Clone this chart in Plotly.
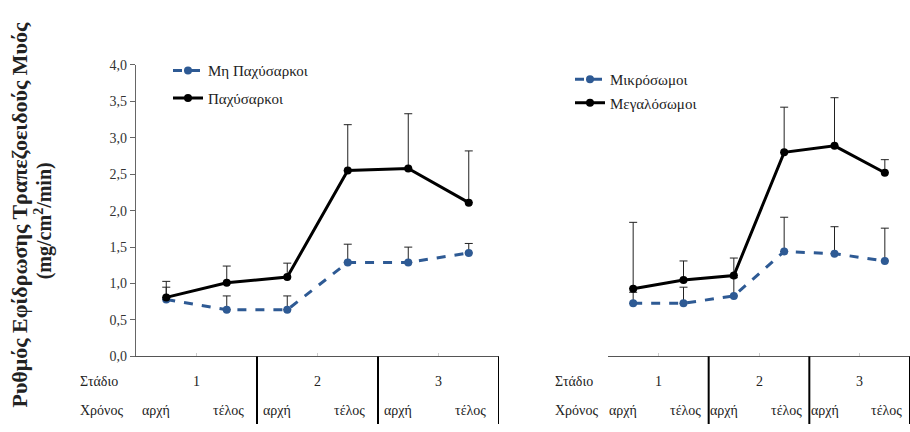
import plotly.graph_objects as go

# ---------------- DATA ----------------
points = [0, 1, 2, 3, 4, 5]
stages = ["1", "2", "3"]
times = ["αρχή", "τέλος", "αρχή", "τέλος", "αρχή", "τέλος"]
y_ticks = [0.0, 0.5, 1.0, 1.5, 2.0, 2.5, 3.0, 3.5, 4.0]
y_tick_text = ["0,0", "0,5", "1,0", "1,5", "2,0", "2,5", "3,0", "3,5", "4,0"]

left_names = ["Μη Παχύσαρκοι", "Παχύσαρκοι"]
left_nonobese = [0.78, 0.64, 0.64, 1.29, 1.29, 1.42]
left_nonobese_err = [0.17, 0.19, 0.19, 0.25, 0.21, 0.13]
left_obese = [0.81, 1.01, 1.09, 2.55, 2.58, 2.11]
left_obese_err = [0.22, 0.23, 0.19, 0.63, 0.75, 0.71]

right_names = ["Μικρόσωμοι", "Μεγαλόσωμοι"]
right_small = [0.73, 0.73, 0.83, 1.44, 1.41, 1.31]
right_small_err = [0.15, 0.22, 0.25, 0.47, 0.37, 0.45]
right_large = [0.93, 1.05, 1.11, 2.80, 2.89, 2.52]
right_large_err = [0.91, 0.26, 0.24, 0.62, 0.66, 0.18]

y_title = "Ρυθμός Εφίδρωσης Τραπεζοειδούς Μυός"
y_unit = "(mg/cm<sup>2</sup>/min)"
stage_label = "Στάδιο"
time_label = "Χρόνος"

# ---------------- STYLE ----------------
W, H = 910, 432
SERIF = "Liberation Serif"
BLUE = "#2E5A94"
BLACK = "#000000"
ERR = "#222222"
TXT = "#222222"

y_bot_px, y_top_px = 362, 60
ydom = [(H - y_bot_px) / H, (H - y_top_px) / H]
x1dom = [136 / W, 499 / W]
x2dom = [608 / W, 1.0]

fig = go.Figure()


def add_series(x_axis, y_axis, vals, errs, name, color, dash, legend, group):
    fig.add_trace(go.Scatter(
        x=points, y=vals, name=name, mode="lines+markers",
        xaxis=x_axis, yaxis=y_axis, legend=legend, legendgroup=group,
        line=dict(color=color, width=3, dash=dash),
        marker=dict(color=color, size=8, symbol="circle"),
        error_y=dict(type="data", symmetric=False, array=errs,
                     arrayminus=[0] * len(errs), color=ERR,
                     thickness=1, width=4),
    ))


add_series("x", "y", left_nonobese, left_nonobese_err, left_names[0], BLUE, "dash", "legend", "a")
add_series("x", "y", left_obese, left_obese_err, left_names[1], BLACK, "solid", "legend", "b")
add_series("x2", "y2", right_small, right_small_err, right_names[0], BLUE, "dash", "legend2", "c")
add_series("x2", "y2", right_large, right_large_err, right_names[1], BLACK, "solid", "legend2", "d")

axis_x_common = dict(range=[-0.5, 5.5], showgrid=False, zeroline=False,
                     showline=True, linecolor="#555555", linewidth=1.2,
                     tickvals=[0.5, 2.5, 4.5], ticks="inside", ticklen=3,
                     tickcolor="#cccccc", showticklabels=False, fixedrange=True)
fig.update_layout(
    width=W, height=H,
    margin=dict(l=0, r=0, t=0, b=0),
    paper_bgcolor="white", plot_bgcolor="white",
    font=dict(family=SERIF, size=13, color=TXT),
    xaxis=dict(domain=x1dom, anchor="y", **axis_x_common),
    xaxis2=dict(domain=x2dom, anchor="y2", **axis_x_common),
    yaxis=dict(domain=ydom, anchor="x", range=[0, 4.0], tickvals=y_ticks,
               ticktext=y_tick_text, ticks="outside", ticklen=5,
               tickcolor="#666666", showline=True, linecolor="#666666",
               linewidth=1.2, showgrid=False, zeroline=False,
               tickfont=dict(family=SERIF, size=14, color="#333333")),
    yaxis2=dict(domain=ydom, anchor="x2", range=[0, 4.0], visible=False,
                showgrid=False, zeroline=False),
    legend=dict(x=168 / W, y=(H - 49) / H, xanchor="left", yanchor="top",
                bgcolor="rgba(0,0,0,0)", font=dict(family=SERIF, size=15, color=TXT),
                tracegroupgap=5, itemwidth=30),
    legend2=dict(x=570 / W, y=(H - 58) / H, xanchor="left", yanchor="top",
                 bgcolor="rgba(0,0,0,0)", font=dict(family=SERIF, size=15, color=TXT),
                 tracegroupgap=1, itemwidth=30),
    showlegend=True,
)

shapes = []
annotations = []
row1_y = (H - 388) / H
row2_y = (H - 418) / H
axis_y_paper = ydom[0]
lbl_font = dict(family=SERIF, size=14, color=TXT)
for xa, label_x in (("x", 78), ("x2", 553)):
    for bx in (1.5, 3.5, 5.5):
        shapes.append(dict(type="line", xref=xa, yref="paper", x0=bx, x1=bx,
                           y0=0, y1=axis_y_paper, line=dict(color="black", width=2)))
    annotations.append(dict(text=stage_label, xref="paper", yref="paper",
                            x=label_x / W, y=row1_y, xanchor="left", yanchor="middle",
                            showarrow=False, font=lbl_font))
    annotations.append(dict(text=time_label, xref="paper", yref="paper",
                            x=label_x / W, y=row2_y, xanchor="left", yanchor="middle",
                            showarrow=False, font=lbl_font))
    for i, s in enumerate(stages):
        annotations.append(dict(text=s, xref=xa, yref="paper", x=2 * i + 0.5,
                                y=row1_y, xanchor="center", yanchor="middle",
                                showarrow=False, font=lbl_font))
    for i, t in enumerate(times):
        annotations.append(dict(text=t, xref=xa, yref="paper", x=points[i],
                                y=row2_y, xanchor="center", yanchor="middle",
                                xshift=(-10 if i % 2 == 0 else 2),
                                showarrow=False, font=lbl_font))

annotations.append(dict(text="<b>" + y_title + "</b>", xref="paper", yref="paper",
                        x=19 / W, y=(H - 216) / H, xanchor="center", yanchor="middle",
                        textangle=-90, showarrow=False,
                        font=dict(family=SERIF, size=22, color=TXT)))
annotations.append(dict(text="<b>" + y_unit + "</b>", xref="paper", yref="paper",
                        x=43 / W, y=(H - 222) / H, xanchor="center", yanchor="middle",
                        textangle=-90, showarrow=False,
                        font=dict(family=SERIF, size=20, color=TXT)))

fig.update_layout(shapes=shapes, annotations=annotations)
fig.write_html("out.html")
